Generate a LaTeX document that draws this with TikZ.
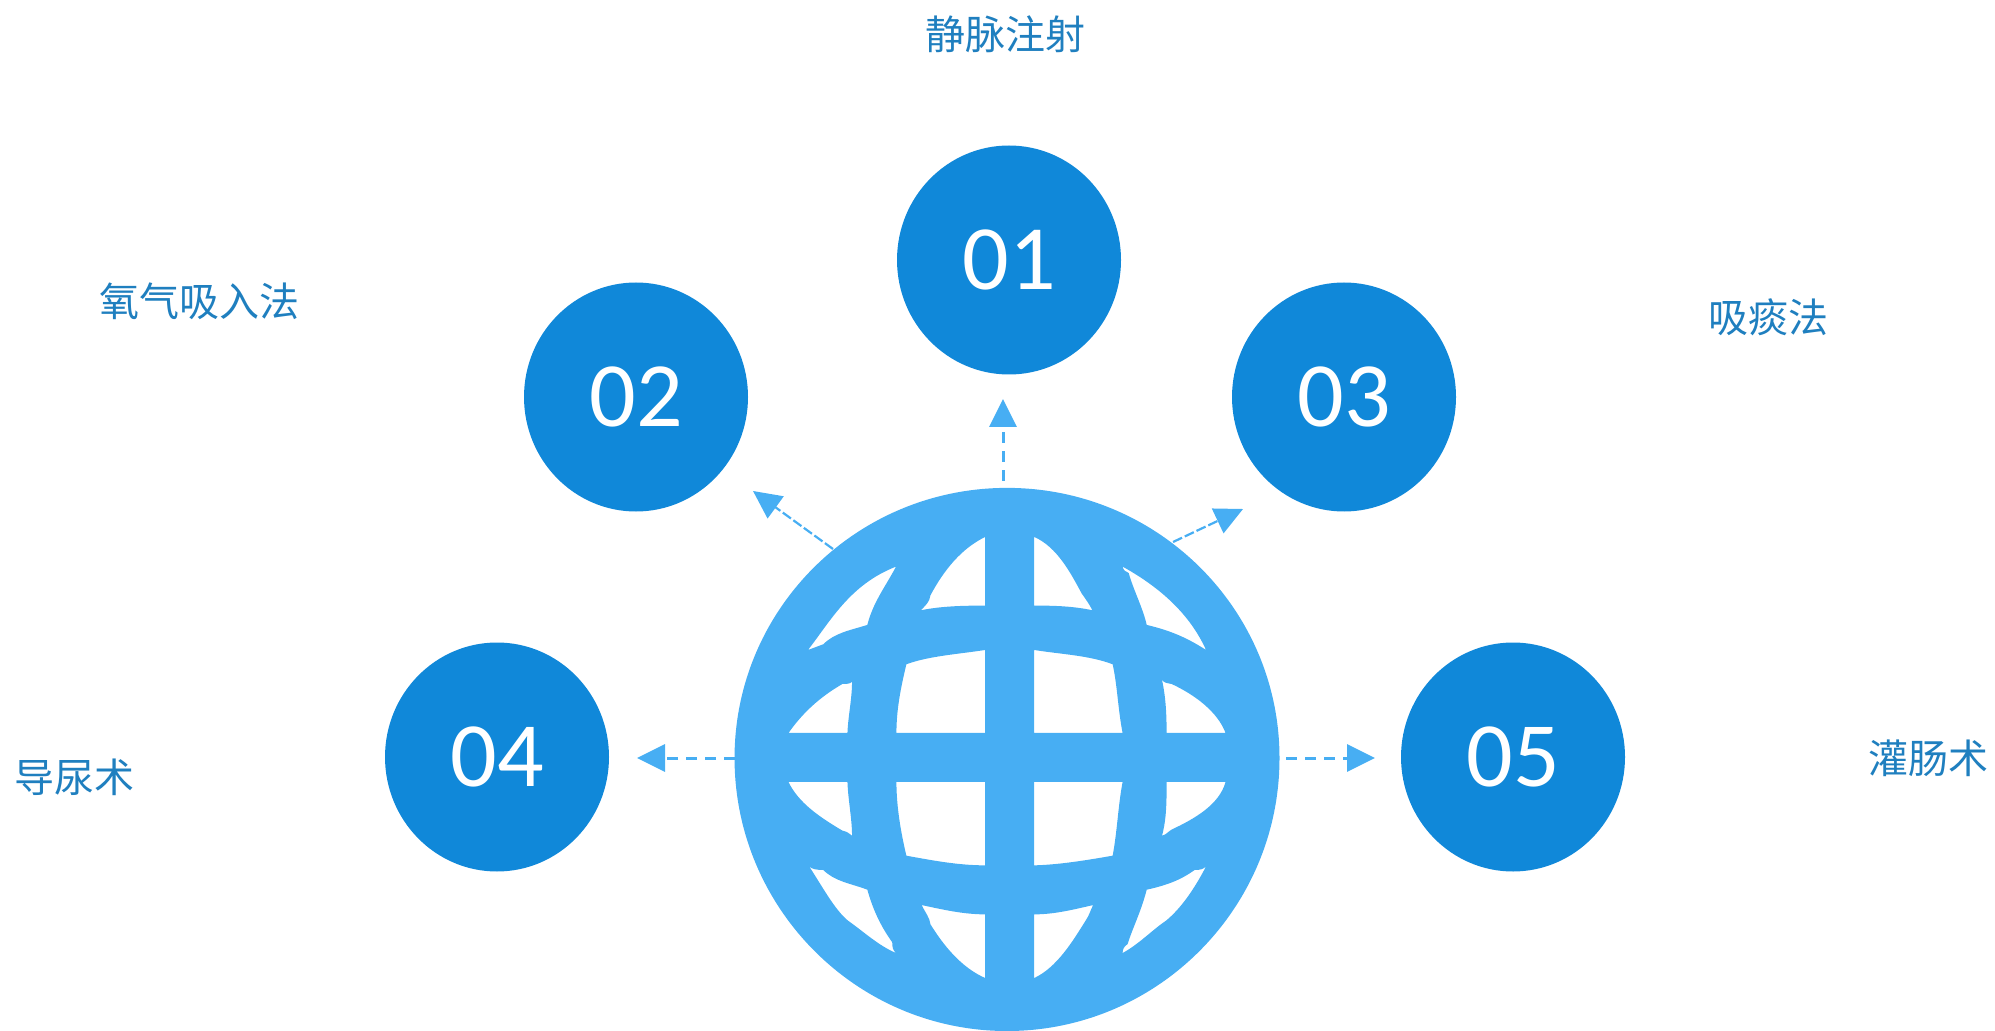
\documentclass[tikz,border=0pt]{standalone}
\usepackage{fontspec}
\setmainfont{Carlito}
\newfontfamily\cjk{Noto Sans CJK SC}
\usetikzlibrary{shapes.geometric,arrows.meta}
\definecolor{disc}{HTML}{1088D9}
\definecolor{globe}{HTML}{47AEF3}
\definecolor{label}{HTML}{1F7FBF}
\tikzset{
  numdisc/.style={ellipse,fill=disc,draw=none,inner sep=0pt,minimum width=112pt,minimum height=114.5pt,text=white,font=\fontsize{46}{46}\selectfont},
  caption/.style={text=label,inner sep=0pt,font=\cjk\fontsize{20}{20}\selectfont},
  link/.style={draw=globe,line width=1.5pt,dash pattern=on 5.5pt off 4pt,-{Triangle[length=14pt,width=13.5pt,fill=globe]}},
  diaglink/.style={link,line width=1.1pt,dash pattern=on 5pt off 1.5pt}
}
\begin{document}
\begin{tikzpicture}[x=0.5pt,y=-0.5pt]
\useasboundingbox (0,0) rectangle (1995,1031);
% globe
\begin{scope}[shift={(720,470)},x=0.19135pt,y=-0.17889pt]
\fill[globe,even odd rule]
 (38,805) .. controls (38,388) and (357,50) .. (750,50)
 .. controls (1143,50) and (1462,388) .. (1462,805)
 .. controls (1462,1225) and (1143,1568) .. (750,1568)
 .. controls (357,1568) and (38,1225) .. (38,805) -- cycle
 % row 1
 (460,270) .. controls (430,330) and (400,370) .. (385,433) .. controls (340,448) and (300,455) .. (270,487) -- (230,503) .. controls (290,420) and (340,320) .. (460,270) -- cycle
 (693,187) .. controls (630,220) and (585,280) .. (550,350) .. controls (548,370) and (535,380) .. (525,392) .. controls (580,380) and (640,379) .. (693,379) -- cycle
 (821,187) .. controls (880,215) and (915,285) .. (945,345) .. controls (955,360) and (965,375) .. (973,392) .. controls (920,380) and (870,379) .. (821,379) -- cycle
 (1052,270) .. controls (1054,280) and (1060,285) .. (1068,288) .. controls (1080,335) and (1105,385) .. (1115,433) .. controls (1170,447) and (1215,465) .. (1270,503) .. controls (1235,420) and (1170,340) .. (1052,270) -- cycle
 % row 2
 (345,592) .. controls (340,598) and (330,598) .. (320,598) .. controls (260,635) and (215,680) .. (179,735) -- (333,735) .. controls (335,685) and (345,640) .. (345,592) -- cycle
 (693,503) .. controls (620,515) and (545,520) .. (487,543) .. controls (472,610) and (461,670) .. (461,735) -- (693,735) -- cycle
 (821,503) .. controls (890,515) and (965,518) .. (1026,543) .. controls (1038,600) and (1040,670) .. (1052,735) -- (821,735) -- cycle
 (1155,587) .. controls (1160,595) and (1170,596) .. (1180,598) .. controls (1240,628) and (1300,675) .. (1321,735) -- (1167,735) .. controls (1167,685) and (1165,635) .. (1155,587) -- cycle
 % row 3
 (179,872) -- (333,872) .. controls (335,925) and (345,975) .. (345,1022) .. controls (338,1015) and (330,1010) .. (320,1008) .. controls (260,970) and (205,930) .. (179,872) -- cycle
 (461,872) -- (693,872) -- (693,1105) .. controls (620,1105) and (550,1090) .. (487,1078) .. controls (472,1010) and (461,940) .. (461,872) -- cycle
 (821,872) -- (1052,872) .. controls (1040,940) and (1038,1010) .. (1026,1078) .. controls (960,1090) and (890,1103) .. (821,1105) -- cycle
 (1167,872) -- (1321,872) .. controls (1305,935) and (1240,975) .. (1180,1005) .. controls (1172,1010) and (1165,1020) .. (1155,1022) .. controls (1167,975) and (1167,925) .. (1167,872) -- cycle
 % row 4
 (233,1108) .. controls (240,1116) and (255,1118) .. (270,1118) .. controls (300,1150) and (340,1155) .. (385,1173) .. controls (400,1230) and (420,1275) .. (450,1320) .. controls (450,1335) and (452,1342) .. (460,1350) .. controls (415,1330) and (375,1290) .. (335,1260) .. controls (300,1230) and (265,1160) .. (233,1108) -- cycle
 (527,1216) .. controls (580,1228) and (635,1242) .. (693,1242) -- (693,1420) .. controls (630,1390) and (585,1330) .. (550,1270) .. controls (548,1250) and (535,1235) .. (527,1216) -- cycle
 (821,1242) .. controls (875,1242) and (925,1228) .. (975,1216) .. controls (968,1230) and (965,1245) .. (955,1260) .. controls (920,1320) and (880,1390) .. (821,1420) -- cycle
 (1115,1173) .. controls (1170,1160) and (1205,1145) .. (1240,1118) .. controls (1255,1118) and (1262,1116) .. (1270,1108) .. controls (1240,1170) and (1205,1225) .. (1165,1260) .. controls (1130,1285) and (1095,1325) .. (1052,1350) .. controls (1052,1338) and (1056,1332) .. (1065,1325) .. controls (1080,1275) and (1100,1235) .. (1115,1173) -- cycle;
\end{scope}
% discs
\node[numdisc] (d1) at (1009,260) {01};
\node[numdisc] (d2) at (636,397) {02};
\node[numdisc] (d3) at (1344,397) {03};
\node[numdisc] (d4) at (497,757) {04};
\node[numdisc] (d5) at (1513,757) {05};
% captions
\node[caption] (c1) at (1005,34) {静脉注射};
\node[caption] (c2) at (199,301) {氧气吸入法};
\node[caption] (c3) at (1768,317) {吸痰法};
\node[caption] (c4) at (74,777) {导尿术};
\node[caption] (c5) at (1928,758) {灌肠术};
% connector ends
\coordinate (s1) at (1003,481); \coordinate (t1) at (1003,399);
\coordinate (s2) at (833,549);  \coordinate (t2) at (753,491);
\coordinate (s3) at (1173,542); \coordinate (t3) at (1243,509);
\coordinate (s4) at (735,758);  \coordinate (t4) at (637,758);
\coordinate (s5) at (1286,758); \coordinate (t5) at (1375,758);
\draw[link] (s1) -- (t1);
\draw[diaglink] (s2) -- (t2);
\draw[diaglink] (s3) -- (t3);
\draw[link] (s4) -- (t4);
\draw[link] (s5) -- (t5);
\end{tikzpicture}
\end{document}
